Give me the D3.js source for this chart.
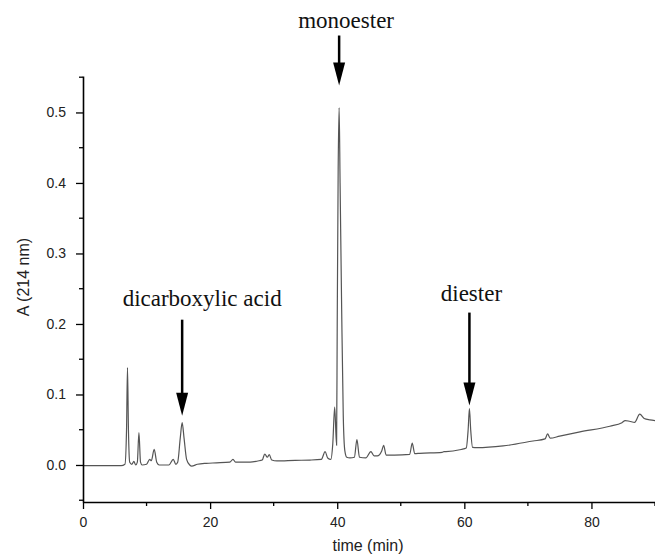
<!DOCTYPE html>
<html>
<head>
<meta charset="utf-8">
<script src="https://cdn.jsdelivr.net/npm/d3@7"></script>
<style>
  body { margin: 0; background: #fff; }
  .axis text { font-family: "Liberation Sans", Arial, sans-serif; font-size: 14px; fill: #222; }
  .note { font-family: "Liberation Serif", "Times New Roman", serif; font-size: 23px; fill: #111; }
</style>
</head>
<body>
<div id="chart"></div>
<script>
// chromatogram, retention time (min) vs absorbance at 214 nm
var times = [0, 3, 6, 6.6, 6.85, 7.0, 7.15, 7.35, 7.7, 8.0, 8.3, 8.55, 8.8, 9.05, 9.3, 10.0, 10.5, 10.75,
    11.2, 11.6, 12.0, 13.5, 14.2, 14.6, 14.9, 15.3, 15.6, 15.9, 16.3, 16.8, 17.1, 18.0, 19.4, 21.0, 23.1,
    23.6, 24.0, 26.3, 27.5, 28.2, 28.6, 29.0, 29.3, 29.7, 30.5, 33.4, 35.7, 37.5, 38.1, 38.5, 39.0, 39.3,
    39.6, 39.9, 40.0, 40.15, 40.3, 40.45, 40.7, 40.95, 41.2, 41.5, 42.0, 42.7, 43.1, 43.5, 44.5, 45.3,
    45.8, 46.3, 47.0, 47.3, 47.7, 49.0, 51.4, 51.8, 52.2, 53.0, 56.5, 56.8, 57.1, 59.5, 60.3, 60.6, 60.8,
    61.0, 61.3, 62.0, 66.1, 70.8, 72.7, 73.1, 73.5, 75.0, 78.2, 82.9, 84.8, 85.3, 86.0, 86.8, 87.6, 88.3,
    89.2, 90];
var absorb = [-0.001, -0.001, -0.001, 0.001, 0.05, 0.138, 0.05, 0.004, 0.001, 0.005, 0.000, 0.004, 0.046,
    0.004, 0.000, 0.001, 0.008, 0.006, 0.022, 0.004, 0.000, 0.000, 0.008, 0.001, 0.004, 0.038, 0.060,
    0.038, 0.008, 0.000, -0.0015, 0.001, 0.0024, 0.003, 0.004, 0.008, 0.004, 0.004, 0.0057, 0.007, 0.0156,
    0.011, 0.0146, 0.007, 0.0057, 0.0066, 0.007, 0.008, 0.019, 0.010, 0.008, 0.03, 0.082, 0.028, 0.2,
    0.42, 0.507, 0.40, 0.22, 0.07, 0.02, 0.011, 0.010, 0.011, 0.036, 0.011, 0.010, 0.019, 0.013, 0.013,
    0.02, 0.028, 0.014, 0.014, 0.015, 0.031, 0.016, 0.0166, 0.018, 0.019, 0.019, 0.022, 0.024, 0.05,
    0.080, 0.05, 0.025, 0.0245, 0.027, 0.034, 0.037, 0.044, 0.038, 0.041, 0.047, 0.055, 0.060, 0.063,
    0.062, 0.0605, 0.072, 0.066, 0.064, 0.063];

var xTicks = [0, 20, 40, 60, 80];
var xMinor = [10, 30, 50, 70, 90];
var yTicks = [0.0, 0.1, 0.2, 0.3, 0.4, 0.5];
var yMinor = [-0.05, 0.05, 0.15, 0.25, 0.35, 0.45, 0.55];

var peakNames = ["dicarboxylic acid", "monoester", "diester"];
var peakTimes = [15.6, 40.3, 60.8];
var peakValues = [0.060, 0.507, 0.080];

var width = 655,
    height = 556;

var svg = d3.select("#chart")
    .append("svg")
    .attr("width", width)
    .attr("height", height);

var x = d3.scaleLinear().domain([0, 90]).range([83, 655]);
var y = d3.scaleLinear().domain([-0.0525, 0.5517]).range([502, 76]);

// trace
var line = d3.line()
    .x(function(d, i) { return x(times[i]); })
    .y(function(d) { return y(d); })
    .curve(d3.curveMonotoneX);

svg.append("path")
    .datum(absorb)
    .attr("d", line)
    .attr("fill", "none")
    .attr("stroke", "#555")
    .attr("stroke-width", 1.2);

// axes
var xAxis = svg.append("g")
    .attr("class", "axis")
    .attr("transform", "translate(0," + y.range()[0] + ")")
    .call(d3.axisBottom(x).tickValues(xTicks).tickFormat(d3.format("d")).tickSize(7).tickPadding(8).tickSizeOuter(0));

xAxis.selectAll(".minor")
    .data(xMinor)
    .enter().append("line")
    .attr("class", "minor")
    .attr("x1", function(d) { return x(d); })
    .attr("x2", function(d) { return x(d); })
    .attr("y1", 0)
    .attr("y2", 4)
    .attr("stroke", "#000");

var yAxis = svg.append("g")
    .attr("class", "axis")
    .attr("transform", "translate(" + x.range()[0] + ",0)")
    .call(d3.axisLeft(y).tickValues(yTicks).tickFormat(d3.format(".1f")).tickSize(7).tickPadding(10).tickSizeOuter(0));

yAxis.selectAll(".minor")
    .data(yMinor)
    .enter().append("line")
    .attr("class", "minor")
    .attr("x1", -4)
    .attr("x2", 0)
    .attr("y1", function(d) { return y(d); })
    .attr("y2", function(d) { return y(d); })
    .attr("stroke", "#000");

svg.selectAll(".axis .domain").attr("stroke", "#000").attr("stroke-width", 1.6);
svg.selectAll(".axis .tick line").attr("stroke", "#000").attr("stroke-width", 1.3);
svg.selectAll(".axis .minor").attr("stroke-width", 1.3);

svg.append("text")
    .attr("x", 368)
    .attr("y", 551)
    .attr("text-anchor", "middle")
    .style("font-family", "Liberation Sans, Arial, sans-serif")
    .style("font-size", "16px")
    .attr("fill", "#222")
    .text("time (min)");

svg.append("text")
    .attr("transform", "translate(29,277) rotate(-90)")
    .attr("text-anchor", "middle")
    .style("font-family", "Liberation Sans, Arial, sans-serif")
    .style("font-size", "16px")
    .attr("fill", "#222")
    .text("A (214 nm)");

// peak annotations: gap above peak, arrow length, text offset
var gaps = [7, 22, 3],
    lens = [96, 50, 93],
    textDx = [20, 7, 2],
    textDy = [14, 8, 12];

peakNames.forEach(function(name, i) {
    var ax = x(peakTimes[i]),
        tip = y(peakValues[i]) - gaps[i],
        tail = tip - lens[i];

    svg.append("line")
        .attr("x1", ax).attr("x2", ax)
        .attr("y1", tail).attr("y2", tip - 18)
        .attr("stroke", "#000")
        .attr("stroke-width", 2.5);

    svg.append("path")
        .attr("d", "M" + (ax - 6) + "," + (tip - 23) + "L" + (ax + 6) + "," + (tip - 23) + "L" + ax + "," + tip + "Z")
        .attr("fill", "#000");

    svg.append("text")
        .attr("class", "note")
        .attr("x", ax + textDx[i])
        .attr("y", tail - textDy[i])
        .attr("text-anchor", "middle")
        .text(name);
});
</script>
</body>
</html>
